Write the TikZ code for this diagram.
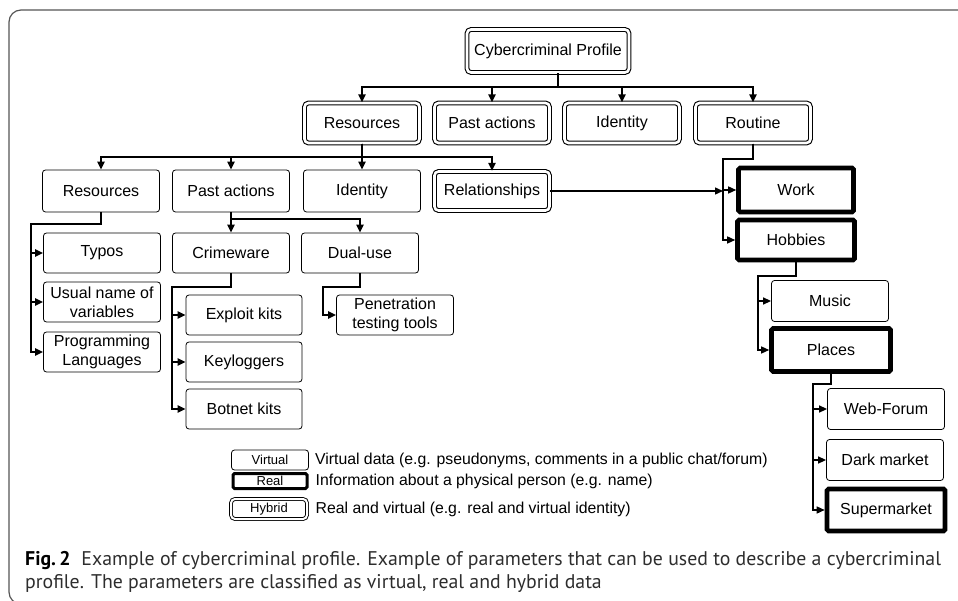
\documentclass[tikz,border=0pt]{standalone}
\usepackage{fontspec}
\setmainfont{Liberation Sans}
\newfontfamily\capfont{PT Sans}
\usetikzlibrary{arrows.meta, positioning, calc}
\definecolor{framegray}{RGB}{85,85,85}
\definecolor{captext}{RGB}{45,45,45}

\tikzset{
  virtual/.style={draw, rounded corners=3pt, line width=0.8pt, fill=white,
                  align=center, inner sep=1pt,
                  font=\fontsize{16}{19}\selectfont},
  hybrid/.style={virtual, double, double distance=2.6pt, line width=1.1pt,
                 rounded corners=4pt},
  realbox/.style={virtual, line width=4.6pt, rounded corners=1.5pt},
  link/.style={line width=2pt, -{Triangle[length=8pt,width=7pt]}},
  thinlink/.style={line width=1.4pt, -{Triangle[length=8pt,width=7pt]}},
  legendtext/.style={anchor=west, inner sep=2pt, font=\fontsize{15.8}{19}\selectfont}
}

\begin{document}
\begin{tikzpicture}[x=1pt, y=-1pt]
  \clip (0,0) rectangle (958,601);
  \draw[framegray, line width=1.2pt, rounded corners=12pt] (9,10) rectangle (985,604);

  % top of the tree
  \node[hybrid, minimum width=162, minimum height=43] (profile) at (548,51) {Cybercriminal Profile};

  \node[hybrid, minimum width=115, minimum height=40] (res)     at (362,123) {Resources};
  \node[hybrid, minimum width=115, minimum height=40] (past)    at (492,123) {Past actions};
  \node[hybrid, minimum width=115, minimum height=40] (ident)   at (622,123) {Identity};
  \node[hybrid, minimum width=115, minimum height=40] (routine) at (753,123) {Routine};

  \coordinate (pbus) at (558,87);
  \foreach \n in {res,past,ident,routine}
    \draw[link] (pbus |- profile.south) -- (pbus) -| (\n.north);

  % second row
  \node[virtual, minimum width=117, minimum height=42] (res3)   at (101,191) {Resources};
  \node[virtual, minimum width=117, minimum height=42] (past3)  at (231,191) {Past actions};
  \node[virtual, minimum width=117, minimum height=42] (ident3) at (362,191) {Identity};
  \node[hybrid, minimum width=115, minimum height=39] (rel)     at (492,191) {Relationships};

  \coordinate (rbus) at (362,157);
  \foreach \n in {res3,past3,ident3,rel}
    \draw[link] (res.south) -- (rbus) -| (\n.north);

  % resources
  \node[virtual, minimum width=117, minimum height=40] (typos)    at (102,253) {Typos};
  \node[virtual, minimum width=117, minimum height=40] (varnames) at (102,302) {Usual name of\\variables};
  \node[virtual, minimum width=117, minimum height=40] (langs)    at (102,352) {Programming\\Languages};

  \coordinate (tbus) at (31,224);
  \foreach \n in {typos,varnames,langs}
    \draw[link] (res3.south) |- (tbus) |- (\n.west);

  % past actions
  \node[virtual, minimum width=117, minimum height=40] (crime) at (231,253) {Crimeware};
  \node[virtual, minimum width=117, minimum height=40] (dual)  at (360,253) {Dual-use};

  \coordinate (cbus) at (231,219);
  \foreach \n in {crime,dual}
    \draw[link] (past3.south) -- (cbus) -| (\n.north);

  \node[virtual, minimum width=116, minimum height=40] (exploit) at (244,315) {Exploit kits};
  \node[virtual, minimum width=116, minimum height=40] (keylog)  at (244,362) {Keyloggers};
  \node[virtual, minimum width=116, minimum height=40] (botnet)  at (244,409) {Botnet kits};
  \node[virtual, minimum width=117, minimum height=40] (pentest) at (395,315) {Penetration\\testing tools};

  \coordinate (kbus) at (172,287);
  \foreach \n in {exploit,keylog,botnet}
    \draw[link] (crime.south) |- (kbus) |- (\n.west);
  \coordinate (dbus) at (323,287);
  \draw[link] (dual.south) |- (dbus) |- (pentest.west);

  % routine
  \node[realbox, minimum width=115, minimum height=44] (work)    at (796,190) {Work};
  \node[realbox, minimum width=117, minimum height=40] (hobbies) at (796,240) {Hobbies};

  \coordinate (wbus) at (723,159);
  \foreach \n in {work,hobbies}
    \draw[thinlink] (routine.south) |- (wbus) |- (\n.west);
  \draw[thinlink] (rel.east) -- (rel.east -| wbus);

  \node[virtual, minimum width=117, minimum height=41] (music)  at (830,301) {Music};
  \node[realbox, minimum width=119, minimum height=43] (places) at (831,350) {Places};

  \coordinate (hbus) at (758,276);
  \foreach \n in {music,places}
    \draw[thinlink] (hobbies.south) |- (hbus) |- (\n.west);

  \node[virtual, minimum width=117, minimum height=41] (forum)  at (886,409) {Web-Forum};
  \node[virtual, minimum width=117, minimum height=41] (dark)   at (885,460) {Dark market};
  \node[realbox, minimum width=118, minimum height=42] (market) at (886,510) {Supermarket};

  \coordinate (plbus) at (813,384);
  \foreach \n in {forum,dark,market}
    \draw[thinlink] (places.south) |- (plbus) |- (\n.west);

  % legend
  \node[virtual, minimum width=77, minimum height=20, inner sep=0pt,
        font=\fontsize{13}{14}\selectfont] (lvirt) at (270,460) {Virtual};
  \node[realbox, line width=3pt, minimum width=74, minimum height=15, inner sep=0pt,
        font=\fontsize{13}{14}\selectfont] (lreal) at (270,481) {Real};
  \node[hybrid, line width=0.9pt, double distance=2pt, minimum width=76, minimum height=20,
        inner sep=0pt, font=\fontsize{13}{14}\selectfont] (lhyb) at (269,509) {Hybrid};

  \node[legendtext, right=4pt of lvirt] (tvirt) {Virtual data (e.g. pseudonyms, comments in a public chat/forum)};
  \node[legendtext, right=5pt of lreal] (treal) {Information about a physical person (e.g. name)};
  \node[legendtext, right=6pt of lhyb]  (thyb)  {Real and virtual (e.g. real and virtual identity)};

  % caption
  \node[anchor=base west, inner sep=0pt, text=captext, font=\capfont\fontsize{19.8}{24}\selectfont]
    (cap1) at (25,565) {{\bfseries\color{black}Fig.\,2}\hspace{0.55em}Example of cybercriminal profile. Example of parameters that can be used to describe a cybercriminal};
  \node[anchor=base west, inner sep=0pt, text=captext, font=\capfont\fontsize{19.8}{24}\selectfont]
    (cap2) at (25,588) {profile. The parameters are classified as virtual, real and hybrid data};
\end{tikzpicture}
\end{document}
